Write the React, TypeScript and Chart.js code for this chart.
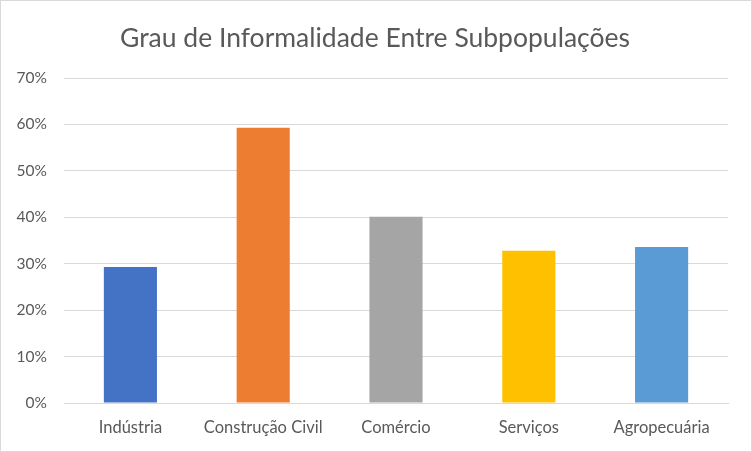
import React, { useEffect, useRef } from "react";
import { Chart, registerables } from "chart.js";

Chart.register(...registerables);

const categories = ["Indústria", "Construção Civil", "Comércio", "Serviços", "Agropecuária"];
const values = [29.3, 59.3, 40.1, 32.8, 33.6];
const barColors = ["#4472C4", "#ED7D31", "#A5A5A5", "#FFC000", "#5B9BD5"];
const titleText = "Grau de Informalidade Entre Subpopulações";
const yMax = 70;
const yStep = 10;

const FONT = "Lato, 'Open Sans', sans-serif";
const TEXT = "#595959";
const GRID = "#d9d9d9";

const titlePlugin = {
  id: "customTitle",
  afterDraw(chart: any) {
    const ctx = chart.ctx;
    ctx.save();
    ctx.font = `26.5px ${FONT}`;
    ctx.fillStyle = TEXT;
    ctx.textAlign = "center";
    ctx.textBaseline = "middle";
    ctx.fillText(titleText, 374, 37);
    ctx.restore();
  },
};

export default function App() {
  const ref = useRef<HTMLCanvasElement>(null);
  useEffect(() => {
    if (!ref.current) return;
    const chart = new Chart(ref.current, {
      type: "bar",
      data: {
        labels: categories,
        datasets: [
          {
            data: values,
            backgroundColor: barColors,
            barPercentage: 0.4,
            categoryPercentage: 1,
          },
        ],
      },
      plugins: [titlePlugin],
      options: {
        responsive: false,
        animation: false,
        devicePixelRatio: 1,
        layout: { padding: { top: 77, right: 23, left: 0, bottom: 0 } },
        plugins: { legend: { display: false }, tooltip: { enabled: false }, title: { display: false } },
        scales: {
          x: {
            grid: { display: false },
            border: { display: true, color: GRID, width: 1 },
            ticks: { color: TEXT, font: { family: FONT, size: 16.5 }, padding: 7, maxRotation: 0, autoSkip: false },
            afterFit(scale: any) {
              scale.height = 48;
            },
          },
          y: {
            min: 0,
            max: yMax,
            grid: { color: GRID, lineWidth: 1, drawTicks: false },
            border: { display: false },
            ticks: {
              stepSize: yStep,
              color: TEXT,
              font: { family: FONT, size: 15.5 },
              padding: 17,
              callback: (v: any) => `${v}%`,
            },
            afterFit(scale: any) {
              scale.width = 63;
            },
          },
        },
      },
    });
    return () => chart.destroy();
  }, []);
  return (
    <div
      style={{
        position: "fixed",
        left: 0,
        top: 0,
        width: 752,
        height: 452,
        border: "1px solid #d9d9d9",
        boxSizing: "border-box",
        background: "#fff",
      }}
    >
      <canvas ref={ref} width={750} height={450} style={{ display: "block", width: 750, height: 450 }} />
    </div>
  );
}
